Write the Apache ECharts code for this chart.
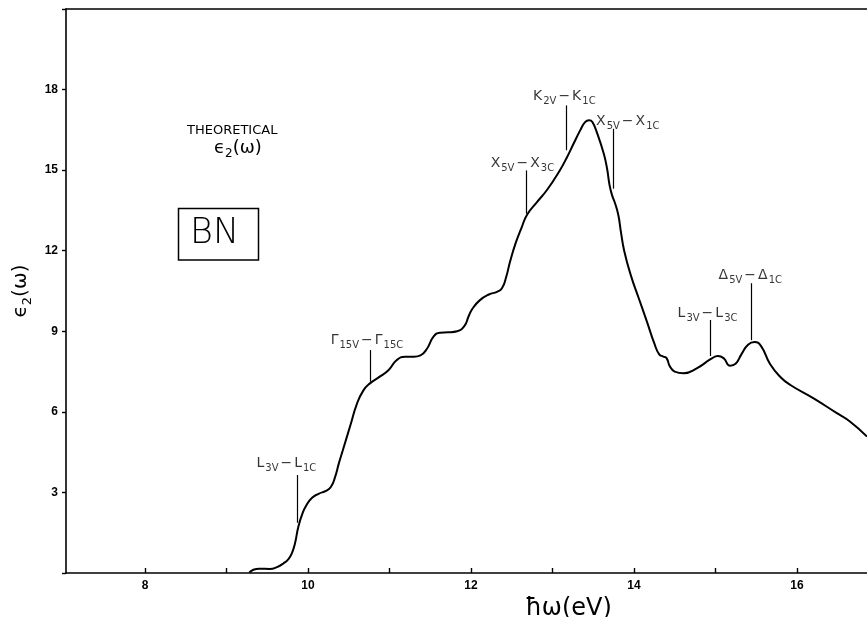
<!DOCTYPE html>
<html><head><meta charset="utf-8">
<script src="https://cdn.jsdelivr.net/npm/echarts@6/dist/echarts.min.js"></script>
<style>html,body{margin:0;padding:0;background:#fff}#c{width:867px;height:617px}</style>
</head><body><div id="c"></div>
<script>
// ---- data ----
const energy = [9.28,9.33,9.40,9.53,9.62,9.70,9.76,9.80,9.84,9.88,9.93,9.98,10.05,10.13,10.22,10.28,10.33,10.38,10.43,10.52,10.60,10.68,10.76,10.88,10.99,11.09,11.19,11.30,11.38,11.46,11.54,11.62,11.72,11.83,11.92,11.97,12.02,12.11,12.22,12.32,12.38,12.43,12.48,12.55,12.62,12.69,12.81,12.93,13.09,13.18,13.26,13.34,13.40,13.45,13.49,13.55,13.63,13.67,13.70,13.73,13.77,13.81,13.84,13.88,13.96,14.06,14.16,14.25,14.31,14.36,14.40,14.44,14.50,14.61,14.77,14.95,15.03,15.10,15.18,15.25,15.32,15.40,15.48,15.56,15.67,15.80,15.92,16.20,16.49,16.65,16.86];
const eps2 = [0.02,0.12,0.16,0.15,0.22,0.36,0.52,0.72,1.10,1.70,2.20,2.52,2.80,2.95,3.06,3.20,3.55,4.10,4.60,5.50,6.30,6.80,7.06,7.31,7.56,7.93,8.05,8.05,8.10,8.35,8.80,8.95,8.96,9.00,9.20,9.55,9.85,10.16,10.37,10.47,10.60,11.00,11.60,12.30,12.85,13.35,13.81,14.25,14.99,15.49,15.99,16.48,16.79,16.86,16.79,16.36,15.61,15.06,14.45,14.08,13.75,13.30,12.70,12.00,11.10,10.22,9.35,8.55,8.14,8.06,8.00,7.70,7.50,7.44,7.62,7.98,8.08,8.00,7.72,7.80,8.15,8.50,8.60,8.45,7.78,7.29,7.00,6.51,5.95,5.64,5.08];
const xTickValues = [8,9,10,11,12,13,14,15,16];
const xTickLabels = [8,10,12,14,16];
const yTickLabels = [3,6,9,12,15,18];
const transEnergy = [9.87,10.76,12.68,13.17,13.74,14.94,15.44];
const transLow = [1.87,7.12,13.38,15.74,14.31,8.08,8.67];
const transHigh = [3.65,8.30,14.99,17.41,16.54,9.42,10.79];
const transLabels = [
  ['L','3V','L','1C'], ['Γ','15V','Γ','15C'], ['X','5V','X','3C'],
  ['K','2V','K','1C'], ['X','5V','X','1C'], ['L','3V','L','3C'], ['Δ','5V','Δ','1C']
];
// ---- layout (label nudges, px) ----
const labelNudge = [[-11,-1],[-3,1],[-4,4],[-2,2],[15,4],[-3,4],[-1,3]];

const FONT = 'DejaVu Sans';
const ink = '#000';
const chart = echarts.init(document.getElementById('c'), null, {renderer:'canvas'});

const richLbl = {
  b: {fontFamily: FONT, fontSize: 14, color: ink, lineHeight: 18, verticalAlign: 'top'},
  s: {fontFamily: FONT, fontSize: 10, color: ink, lineHeight: 10, padding: [7,0,0,1], verticalAlign: 'top'},
  d: {fontFamily: FONT, fontSize: 14, color: ink, lineHeight: 18, verticalAlign: 'top', padding: [0,2,0,2]}
};

const option = {
  animation: false,
  backgroundColor: '#fff',
  grid: {left: 66, top: 9, right: 0, bottom: 44, containLabel: false, outerBoundsMode: 'none'},
  xAxis: [{
    type: 'value', min: 7.03, max: 16.86,
    axisLine: {show: true, lineStyle: {color: ink, width: 1.6}},
    axisTick: {show: true, inside: true, length: 5, lineStyle: {color: ink, width: 1.4}, customValues: xTickValues},
    axisLabel: {show: true, customValues: xTickLabels, color: ink, fontFamily: 'Liberation Sans', fontWeight: 'bold', fontSize: 12, margin: 7},
    splitLine: {show: false},
    name: 'ħω(eV)', nameLocation: 'middle', nameGap: 13,
    nameTextStyle: {fontFamily: FONT, fontSize: 24, color: ink, padding: [0,0,0,204]}
  }, {
    type: 'value', position: 'top', min: 7.03, max: 16.86,
    axisLine: {show: true, lineStyle: {color: ink, width: 1.6}},
    axisTick: {show: false}, axisLabel: {show: false}, splitLine: {show: false}
  }],
  yAxis: {
    type: 'value', min: 0, max: 21, interval: 3,
    axisLine: {show: true, lineStyle: {color: ink, width: 1.6}},
    axisTick: {show: true, inside: false, length: 4, lineStyle: {color: ink, width: 1.4}},
    axisLabel: {color: ink, fontFamily: 'Liberation Sans', fontWeight: 'bold', fontSize: 12, margin: 8,
      formatter: v => yTickLabels.indexOf(v) >= 0 ? String(v) : ''},
    splitLine: {show: false},
    name: '{e|ϵ}{s|2}{e|(ω)}', nameLocation: 'middle', nameGap: 8,
    nameTextStyle: {rich: {
      e: {fontFamily: FONT, fontSize: 20, color: ink, lineHeight: 24, verticalAlign: 'top'},
      s: {fontFamily: FONT, fontSize: 13, color: ink, lineHeight: 13, padding: [10,0,0,0], verticalAlign: 'top'}
    }}
  },
  series: [{
    type: 'line', xAxisIndex: 0,
    data: energy.map((e, i) => [e, eps2[i]]),
    showSymbol: false, symbol: 'none',
    smooth: 0.5,
    lineStyle: {color: ink, width: 2},
    silent: true, z: 3
  }, {
    type: 'scatter', xAxisIndex: 0,
    data: transEnergy.map((e, i) => [e, transHigh[i]]),
    symbolSize: 0, silent: true,
    label: {
      show: true, position: 'top', distance: 0,
      formatter: p => {
        const t = transLabels[p.dataIndex];
        return '{b|' + t[0] + '}{s|' + t[1] + '}{d|−}{b|' + t[2] + '}{s|' + t[3] + '}';
      },
      rich: richLbl
    },
    labelLayout: p => ({dx: labelNudge[p.dataIndex][0], dy: labelNudge[p.dataIndex][1]}),
    markLine: {
      silent: true, symbol: ['none','none'],
      label: {show: false},
      lineStyle: {color: ink, width: 1.2, type: 'solid'},
      data: transEnergy.map((e, i) => [{coord: [e, transLow[i]]}, {coord: [e, transHigh[i]]}])
    }
  }],
  graphic: [
    {type: 'text', left: 187, top: 124, style: {text: 'THEORETICAL', fontFamily: FONT, fontSize: 13, fill: ink}},
    {type: 'text', left: 214, top: 139, style: {
      text: '{e|ϵ}{s|2}{e|(ω)}', rich: {
        e: {fontFamily: FONT, fontSize: 18, fill: ink, lineHeight: 21, verticalAlign: 'top'},
        s: {fontFamily: FONT, fontSize: 12, fill: ink, lineHeight: 12, padding: [9,0,0,0], verticalAlign: 'top'}
      }}},
    {type: 'rect', shape: {x: 178.5, y: 208.5, width: 80, height: 51.5}, style: {fill: 'none', stroke: ink, lineWidth: 1.5}},
    {type: 'text', left: 190, top: 216, style: {text: 'BN', fontFamily: FONT, fontSize: 35, fontWeight: 200, fill: ink}}
  ]
};
chart.setOption(option);
</script>
</body></html>
